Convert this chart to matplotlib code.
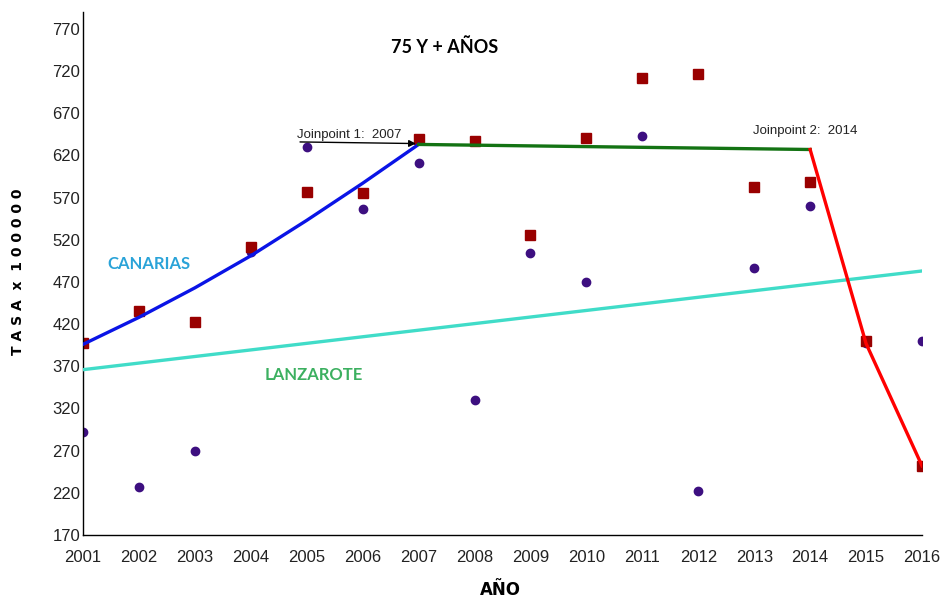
import matplotlib
matplotlib.use("Agg")
import matplotlib.pyplot as plt

# ----- Daten -----
anios = list(range(2001, 2017))
canarias = [398, 436, 423, 511, 577, 576, 639, 637, 526, 641, 712, 716, 582, 589, 400, 252]
lanzarote = [292, 227, 269, 506, 630, 557, 611, 330, 504, 470, 643, 222, 486, 560, 398, 400]

# Joinpoint-Segmente (modelierte Werte)
seg1_anios = [2001, 2002, 2003, 2004, 2005, 2006, 2007]
seg1_tasa = [396, 428, 463, 501, 543, 587, 633]
seg2_anios = [2007, 2014]
seg2_tasa = [633, 627]
seg3_anios = [2014, 2015, 2016]
seg3_tasa = [627, 397, 252]

# Tendencia Lanzarote
lanz_anios = [2001, 2016]
lanz_tasa = [366, 483]

yticks = list(range(170, 771, 50))

arial = ['Liberation Sans', 'DejaVu Sans']

fig = plt.figure(figsize=(9.47, 6.03), dpi=100)
ax = fig.add_axes([83 / 947, 1 - 535 / 603, (922 - 83) / 947, (535 - 12) / 603])

ax.plot(anios, lanzarote, 'o', color='#3d0f80', markersize=6, zorder=2)
ax.plot(anios, canarias, 's', color='#990000', markersize=7, zorder=2)

ax.plot(lanz_anios, lanz_tasa, color='#40dcc8', lw=2.4, zorder=3)
ax.plot(seg1_anios, seg1_tasa, color='#0a14e6', lw=2.4, zorder=3)
ax.plot(seg2_anios, seg2_tasa, color='#137313', lw=2.4, zorder=3)
ax.plot(seg3_anios, seg3_tasa, color='#ff0000', lw=2.4, zorder=3)

# ----- Joinpoints -----
ax.annotate('', xy=(2007, 634), xytext=(2004.83, 636),
            arrowprops=dict(arrowstyle='-|>', color='black', lw=1, mutation_scale=10), zorder=4)
ax.text(2004.83, 637, 'Joinpoint 1:  2007', ha='left', va='bottom', fontsize=9.5,
        family=arial, color='#222222')
ax.text(2012.97, 649, 'Joinpoint 2:  2014', ha='left', va='center', fontsize=9.5,
        family=arial, color='#222222')

ax.text(2001.43, 491, 'CANARIAS', color='#2aa3d8', fontsize=12, fontweight='bold',
        ha='left', va='center', family=['Lato', 'DejaVu Sans'])
ax.text(2004.25, 360, 'LANZAROTE', color='#3cb060', fontsize=12, fontweight='bold',
        ha='left', va='center', family=['Lato', 'DejaVu Sans'])

fig.text(445 / 947, 1 - 47 / 603, '75 Y + AÑOS', ha='center', va='center', fontsize=13,
         fontweight='bold', family=['Lato', 'DejaVu Sans'])

ax.set_xlim(2001, 2016)
ax.set_ylim(170, 790)
ax.set_xticks(anios)
ax.set_yticks(yticks)
ax.tick_params(length=0, labelsize=12, colors='#222222')
ax.tick_params(axis='x', pad=11)
ax.tick_params(axis='y', pad=2)
for lab in ax.get_xticklabels() + ax.get_yticklabels():
    lab.set_family(arial)

for s in ['top', 'right']:
    ax.spines[s].set_visible(False)
for s in ['left', 'bottom']:
    ax.spines[s].set_color('black')
    ax.spines[s].set_linewidth(1)

fig.text(500 / 947, 1 - 590 / 603, 'AÑO', ha='center', va='center', fontsize=12, fontweight='bold')
fig.text(18 / 947, 1 - 272 / 603, 'T A S A  x  1 0 0 0 0 0', ha='center', va='center', rotation=90,
         fontsize=10, fontweight='bold')

fig.savefig('out.png', dpi=100)
